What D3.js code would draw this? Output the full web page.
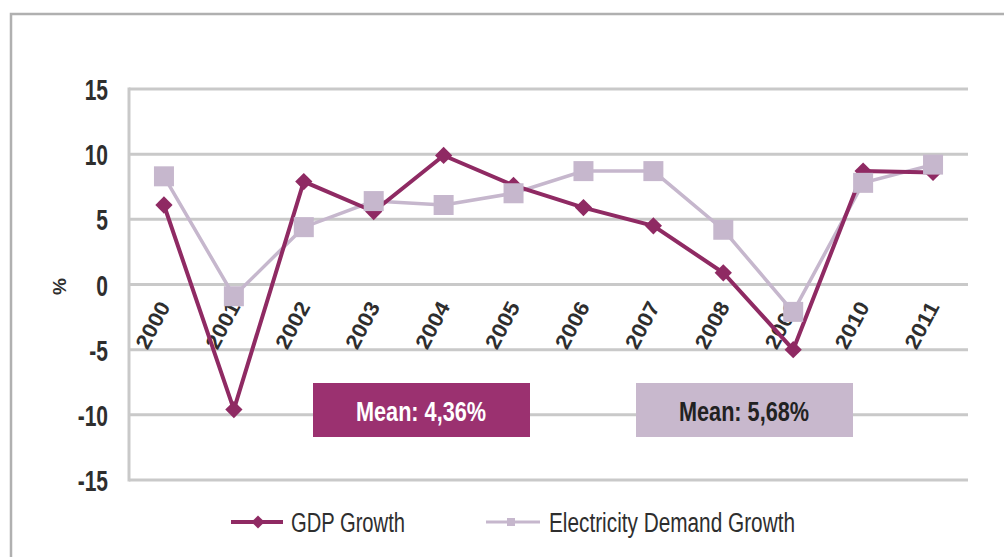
<!DOCTYPE html>
<html>
<head>
<meta charset="utf-8">
<script src="https://cdn.jsdelivr.net/npm/d3@7/dist/d3.min.js"></script>
<style>
  body { margin: 0; background: #fff; }
  svg text { font-family: "Liberation Sans", Arial, sans-serif; }
</style>
</head>
<body>
<div id="chart"></div>
<script>
const years = ["2000", "2001", "2002", "2003", "2004", "2005", "2006", "2007", "2008", "2009", "2010", "2011"];
const gdpGrowth = [6.1, -9.6, 7.9, 5.6, 9.9, 7.6, 5.9, 4.5, 0.9, -5.0, 8.7, 8.6];
const electricityGrowth = [8.3, -0.9, 4.4, 6.4, 6.1, 7.0, 8.7, 8.7, 4.2, -2.1, 7.8, 9.2];
const yTicks = [15, 10, 5, 0, -5, -10, -15];
const means = [
  {label: "Mean: 4,36%", series: "gdp"},
  {label: "Mean: 5,68%", series: "elec"}
];
const legendItems = ["GDP Growth", "Electricity Demand Growth"];

const width = 1004, height = 557;
const gdpColor = "#8f2a63";
const elecColor = "#c6b7cd";
const gridColor = "#c9c9c9";
const textColor = "#2e2e2e";

const svg = d3.select("#chart")
  .append("svg")
  .attr("width", width)
  .attr("height", height);

// outer frame (top and left only)
svg.append("path")
  .attr("d", `M11,${height} L11,14 L${width},14`)
  .attr("fill", "none")
  .attr("stroke", "#b0b0b0")
  .attr("stroke-width", 2.5);

const plot = {left: 129, right: 968, top: 89, bottom: 480};

const x = d3.scalePoint()
  .domain(years)
  .range([plot.left, plot.right])
  .padding(0.5);

const y = d3.scaleLinear()
  .domain([-15, 15])
  .range([plot.bottom, plot.top]);

// gridlines
svg.append("g").selectAll("line").data(yTicks).enter()
  .append("line")
  .attr("x1", plot.left)
  .attr("x2", plot.right)
  .attr("y1", d => y(d))
  .attr("y2", d => y(d))
  .attr("stroke", gridColor)
  .attr("stroke-width", 3);

svg.append("line")
  .attr("x1", plot.left).attr("x2", plot.left)
  .attr("y1", plot.top - 1.5).attr("y2", plot.bottom + 1.5)
  .attr("stroke", gridColor)
  .attr("stroke-width", 3);

// y tick labels (narrow, like the condensed original)
svg.append("g").selectAll("text").data(yTicks).enter()
  .append("text")
  .attr("transform", d => `translate(108,${y(d) + 11}) scale(0.7,1)`)
  .attr("text-anchor", "end")
  .attr("font-size", 30)
  .attr("font-weight", "bold")
  .attr("fill", textColor)
  .text(d => d < 0 ? "-" + Math.abs(d) : d);

svg.append("text")
  .attr("transform", `translate(66,${y(0) + 2}) rotate(-90)`)
  .attr("text-anchor", "middle")
  .attr("font-size", 19)
  .attr("font-weight", "bold")
  .attr("fill", textColor)
  .text("%");

// year labels, rotated
svg.append("g").selectAll("text").data(years).enter()
  .append("text")
  .attr("transform", d => `translate(${x(d) + 7},${y(0) + 22}) rotate(-62)`)
  .attr("text-anchor", "end")
  .attr("font-size", 21)
  .attr("font-weight", "bold")
  .attr("textLength", 50)
  .attr("lengthAdjust", "spacingAndGlyphs")
  .attr("fill", textColor)
  .text(d => d);

// mean boxes
const meanBoxes = svg.append("g").selectAll("g").data(means).enter()
  .append("g")
  .attr("transform", (d, i) => `translate(${i === 0 ? 313 : 636},383)`);

meanBoxes.append("rect")
  .attr("width", 217)
  .attr("height", 54)
  .attr("fill", d => d.series === "gdp" ? "#9b3170" : "#c8b8cd");

meanBoxes.append("text")
  .attr("x", 108)
  .attr("y", 38)
  .attr("text-anchor", "middle")
  .attr("font-size", 28)
  .attr("font-weight", "bold")
  .attr("textLength", 130)
  .attr("lengthAdjust", "spacingAndGlyphs")
  .attr("fill", d => d.series === "gdp" ? "#ffffff" : "#222222")
  .text(d => d.label);

const line = d3.line()
  .x((d, i) => x(years[i]))
  .y(d => y(d));

// lines first, gdp over electricity
svg.append("path")
  .datum(electricityGrowth)
  .attr("d", line)
  .attr("fill", "none")
  .attr("stroke", elecColor)
  .attr("stroke-width", 3.5);

svg.append("path")
  .datum(gdpGrowth)
  .attr("d", line)
  .attr("fill", "none")
  .attr("stroke", gdpColor)
  .attr("stroke-width", 4);

const diamond = d3.symbol().type(d3.symbolDiamond2).size(190);

svg.append("g").selectAll("path").data(gdpGrowth).enter()
  .append("path")
  .attr("d", diamond)
  .attr("transform", (d, i) => `translate(${x(years[i])},${y(d)})`)
  .attr("fill", gdpColor);

svg.append("g").selectAll("rect").data(electricityGrowth).enter()
  .append("rect")
  .attr("x", (d, i) => x(years[i]) - 10)
  .attr("y", d => y(d) - 10)
  .attr("width", 20)
  .attr("height", 20)
  .attr("fill", elecColor);

// legend
const legend = svg.append("g").attr("transform", "translate(0,522)");

legend.append("line")
  .attr("x1", 231).attr("x2", 283)
  .attr("stroke", gdpColor).attr("stroke-width", 4);
legend.append("path")
  .attr("d", d3.symbol().type(d3.symbolDiamond2).size(110))
  .attr("transform", "translate(258,0)")
  .attr("fill", gdpColor);
legend.append("text")
  .attr("x", 291).attr("y", 10)
  .attr("font-size", 27)
  .attr("textLength", 114)
  .attr("lengthAdjust", "spacingAndGlyphs")
  .attr("fill", textColor)
  .text(legendItems[0]);

legend.append("line")
  .attr("x1", 486).attr("x2", 540)
  .attr("stroke", elecColor).attr("stroke-width", 3);
legend.append("rect")
  .attr("x", 507).attr("y", -4)
  .attr("width", 8).attr("height", 8)
  .attr("fill", elecColor);
legend.append("text")
  .attr("x", 549).attr("y", 10)
  .attr("font-size", 27)
  .attr("textLength", 246)
  .attr("lengthAdjust", "spacingAndGlyphs")
  .attr("fill", textColor)
  .text(legendItems[1]);
</script>
</body>
</html>
